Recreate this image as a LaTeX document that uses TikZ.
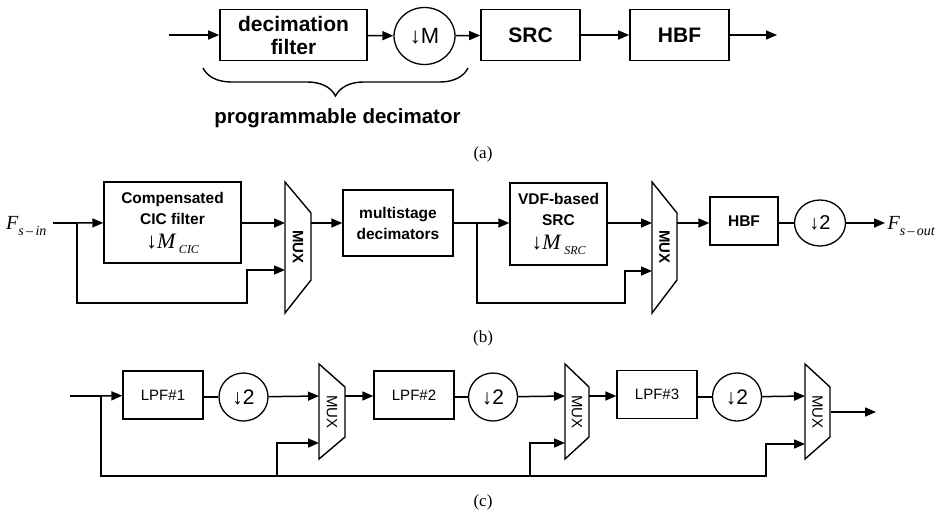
\documentclass[tikz,border=0pt]{standalone}
\usepackage{fontspec}
\setmainfont{Liberation Serif}
\newfontfamily\arialf{Liberation Sans}
\usetikzlibrary{arrows.meta,shapes.geometric,decorations.pathreplacing}

\begin{document}
\begin{tikzpicture}[x=1pt,y=-1pt]
        \tikzset{
            blka/.style={draw, line width=1.6pt, inner sep=0pt, align=center,
            font=\arialf\bfseries\fontsize{21}{23}\selectfont},
            blkb/.style={draw, line width=1.4pt, inner sep=0pt, align=center,
            font=\arialf\bfseries\fontsize{15.5}{21}\selectfont},
            blkc/.style={draw, line width=1.3pt, inner sep=0pt, minimum width=80pt,
            minimum height=48pt, font=\arialf\fontsize{15}{18}\selectfont},
            dwn/.style={draw, ellipse, line width=1.3pt, inner sep=0pt},
            ar/.style={-{Triangle[length=11pt,width=9pt]}, line width=1.5pt},
            ln/.style={-, line width=1.5pt},
            muxb/.style={line width=1.4pt},
            muxt/.style={rotate=-90, font=\arialf\bfseries\fontsize{15}{15}\selectfont},
            lbl/.style={font=\fontsize{17}{17}\selectfont},
            sig/.style={font=\fontsize{20}{20}\selectfont\itshape}
            }
            \useasboundingbox (0,0) rectangle (936,514);

            % (a)
            \node[blka, minimum width=147pt, minimum height=51pt] (dec) at (293.5,35) {decimation\\filter};
            \node[dwn, minimum width=61pt, minimum height=57pt,
                  font=\arialf\fontsize{22}{22}\selectfont] (dm) at (424.5,36) {↓M};
            \node[blka, minimum width=99pt, minimum height=51pt] (srca) at (530.5,35) {SRC};
            \node[blka, minimum width=99pt, minimum height=51pt] (hbfa) at (679.5,35) {HBF};
            \coordinate (ina) at (169,35);
            \coordinate (outa) at (777,35);

            \draw[ar] (ina) -- (dec);
            \draw[ar] (dec) -- (dm);
            \draw[ar] (dm) -- (srca);
            \draw[ar] (srca) -- (hbfa);
            \draw[ar] (hbfa) -- (outa);

            \coordinate (br1) at (203,68);
            \coordinate (br2) at (468,68);
            \draw[line width=1.4pt, decorate, decoration={brace, mirror, amplitude=28pt}] (br1) -- (br2);
            \node[font=\arialf\bfseries\fontsize{20.5}{21}\selectfont] (pd) at (337.5,118) {programmable decimator};
            \node[lbl] (la) at (483,154) {(a)};

            % (b)
            \node[sig, anchor=east] (fin) at (50,226) {F\raisebox{-6pt}{\fontsize{14}{14}\selectfont s\,–\,in}};
            \coordinate (inb) at (53,223);
            \coordinate (bb1) at (77,223);
            \node[blkb, minimum width=137pt, minimum height=81pt] (cic) at (172.5,222.5)
                {Compensated\\CIC filter\\[3pt]{\mdseries\rmfamily\fontsize{22}{22}\selectfont ↓\itshape M\,\raisebox{-5pt}{\fontsize{12}{12}\selectfont CIC}}};
            \draw[muxb] (285,182) -- (311,213) -- (311,280) -- (285,313) -- cycle;
            \node[muxt] (mux1) at (298,247) {MUX};
            \coordinate (m1a) at (285,223);
            \coordinate (m1b) at (285,270);
            \coordinate (m1o) at (311,223);
            \node[blkb, minimum width=110pt, minimum height=66pt] (msd) at (398,223) {multistage\\decimators};
            \coordinate (bb2) at (477,223);
            \node[blkb, minimum width=97pt, minimum height=82pt] (vdf) at (558.5,224)
                {VDF-based\\SRC\\[3pt]{\mdseries\rmfamily\fontsize{22}{22}\selectfont ↓\itshape M\,\raisebox{-5pt}{\fontsize{12}{12}\selectfont SRC}}};
            \draw[muxb] (652,182) -- (677,213) -- (677,280) -- (652,313) -- cycle;
            \node[muxt] (mux2) at (664.5,247) {MUX};
            \coordinate (m2a) at (652,223);
            \coordinate (m2b) at (652,271);
            \coordinate (m2o) at (677,223);
            \node[blkb, minimum width=68pt, minimum height=48pt] (hbfb) at (744,221) {HBF};
            \node[dwn, minimum width=51pt, minimum height=46pt,
                  font=\arialf\fontsize{20}{20}\selectfont] (d2b) at (820,223) {↓2};
            \coordinate (outb) at (885,223);
            \node[sig, anchor=west] (fout) at (884,226) {F\raisebox{-6pt}{\fontsize{14}{14}\selectfont s\,–\,out}};

            \draw[ln] (inb) -- (bb1);
            \draw[ar] (bb1) -- (cic);
            \draw[ar] (cic.east |- m1a) -- (m1a);
            \draw[ar] (bb1) |- (77,303) -| (247,270) -- (m1b);
            \draw[ar] (m1o) -- (msd.west |- m1o);
            \draw[ln] (msd.east |- bb2) -- (bb2);
            \draw[ar] (bb2) -- (vdf.west |- bb2);
            \draw[ar] (vdf.east |- m2a) -- (m2a);
            \draw[ar] (bb2) |- (477,303) -| (625,271) -- (m2b);
            \draw[ar] (m2o) -- (hbfb.west |- m2o);
            \draw[ln] (hbfb.east |- d2b) -- (d2b);
            \draw[ar] (d2b) -- (outb);
            \node[lbl] (lb) at (483,338) {(b)};

            % (c)
            \coordinate (inc) at (70,396);
            \coordinate (cb) at (101,396);
            \node[blkc] (lpf1) at (163,395) {LPF\#1};
            \node[dwn, minimum width=49pt, minimum height=48pt,
                  font=\arialf\fontsize{21}{21}\selectfont] (d1c) at (243.5,397) {↓2};
            \draw[muxb] (319,364) -- (345,387) -- (345,437) -- (319,459) -- cycle;
            \node[muxt, font=\arialf\fontsize{15}{15}\selectfont] (mux3) at (332,412) {MUX};
            \node[blkc] (lpf2) at (414,395) {LPF\#2};
            \node[dwn, minimum width=49pt, minimum height=48pt,
                  font=\arialf\fontsize{21}{21}\selectfont] (d2c) at (493,397) {↓2};
            \draw[muxb] (565,364) -- (589,387) -- (589,437) -- (565,459) -- cycle;
            \node[muxt, font=\arialf\fontsize{15}{15}\selectfont] (mux4) at (577,412) {MUX};
            \node[blkc] (lpf3) at (657,394.5) {LPF\#3};
            \node[dwn, minimum width=49pt, minimum height=48pt,
                  font=\arialf\fontsize{21}{21}\selectfont] (d3c) at (737,397) {↓2};
            \draw[muxb] (805,364) -- (830,387) -- (830,437) -- (805,459) -- cycle;
            \node[muxt, font=\arialf\fontsize{15}{15}\selectfont] (mux5) at (817.5,412) {MUX};
            \coordinate (outc) at (876,412);
            \coordinate (t1) at (277,476);
            \coordinate (t2) at (530,476);
            \coordinate (t3) at (766,476);

            \draw[ln] (inc) -- (cb);
            \draw[ar] (cb) -- (lpf1);
            \draw[ln] (lpf1.east |- d1c) -- (d1c);
            \draw[ar] (d1c) -- (319,396);
            \draw[ar] (345,396) -- (lpf2.west |- 345,396);
            \draw[ln] (lpf2.east |- d2c) -- (d2c);
            \draw[ar] (d2c) -- (565,396);
            \draw[ar] (589,396) -- (lpf3.west |- 589,396);
            \draw[ln] (lpf3.east |- d3c) -- (d3c);
            \draw[ar] (d3c) -- (805,396);
            \draw[ar] (831,412) -- (outc);
            \draw[ar] (cb) |- (t3) |- (805,444);
            \draw[ar] (t1) |- (319,443);
            \draw[ar] (t2) |- (565,443);
            \node[lbl] (lc) at (483,502) {(c)};
\end{tikzpicture}
\end{document}
